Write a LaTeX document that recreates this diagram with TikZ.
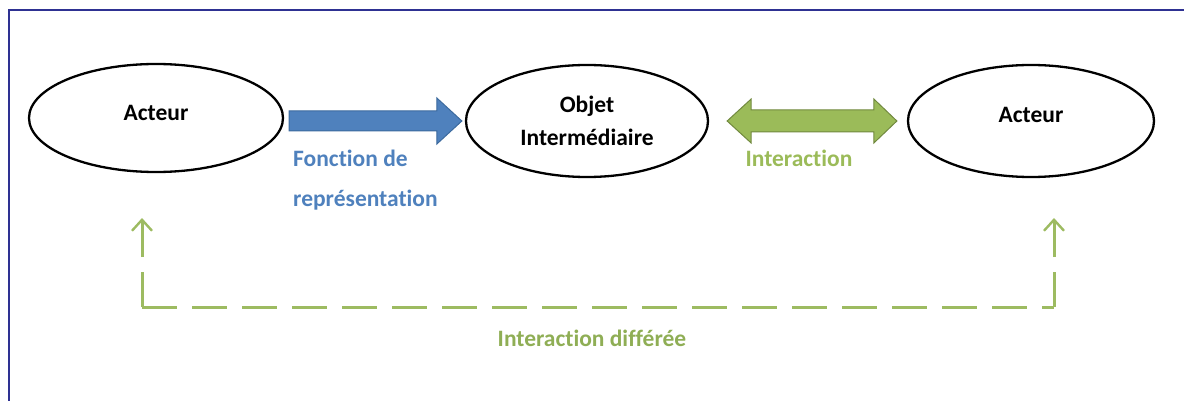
\documentclass[tikz,border=0pt]{standalone}
\usepackage{fontspec}
\setmainfont{Carlito}[Ligatures={NoCommon}]
\usetikzlibrary{shapes.geometric,arrows.meta,calc}
\definecolor{frameblue}{HTML}{2E3192}
\definecolor{repblue}{HTML}{4F81BD}
\definecolor{repblueline}{HTML}{3C6A9E}
\definecolor{intgreen}{HTML}{9BBB59}
\definecolor{intgreenline}{HTML}{71893F}
\definecolor{delaygreen}{HTML}{9DBB61}
\definecolor{delaytext}{HTML}{8FAE55}
\begin{document}
\begin{tikzpicture}[x=1pt,y=-1pt,
  lbl/.style={font=\fontsize{23.5}{33}\selectfont\bfseries},
  actor/.style={draw=black, line width=2.3pt, ellipse, inner sep=0pt,
    align=center, lbl, text=black},
  repfill/.style={fill=repblue, draw=repblueline, line width=1pt, line join=miter},
  intfill/.style={fill=intgreen, draw=intgreenline, line width=1pt, line join=miter},
  delayline/.style={draw=delaygreen, line width=3pt, dash pattern=on 35pt off 15pt},
  delaytip/.style={-{Straight Barb[length=11pt,width=20pt,line width=2.4pt]}}
]
\useasboundingbox (0,0) rectangle (1184,401);

% frame (top and left edges)
\draw[frameblue, line width=2pt] (1184,10) -- (9,10) -- (9,401);

% ellipses
\node[actor, minimum width=254pt, minimum height=108pt, text depth=10pt] (actL) at (156,118) {Acteur};
\node[actor, minimum width=242pt, minimum height=112pt] (objet) at (587,121) {Objet\\Interm\'ediaire};
\node[actor, minimum width=246pt, minimum height=112pt, text depth=12pt] (actR) at (1031,121) {Acteur};

% representation arrow: actor -> object
\coordinate (repA) at ($(actL.east)+(5,3)$);
\coordinate (repB) at ($(objet.west)+(-3,0)$);
\filldraw[repfill] ($(repA)+(0,-10)$) -- ($(repB)+(-25,-10)$) -- ($(repB)+(-25,-23)$)
  -- (repB) -- ($(repB)+(-25,23)$) -- ($(repB)+(-25,10)$) -- ($(repA)+(0,10)$) -- cycle;

% interaction arrow: object <-> actor
\coordinate (intA) at ($(objet.east)+(18,0)$);
\coordinate (intB) at ($(actR.west)+(-10,0)$);
\filldraw[intfill] (intA) -- ($(intA)+(24,-22)$) -- ($(intA)+(24,-11)$)
  -- ($(intB)+(-23,-11)$) -- ($(intB)+(-23,-22)$) -- (intB) -- ($(intB)+(-23,22)$)
  -- ($(intB)+(-23,11)$) -- ($(intA)+(24,11)$) -- ($(intA)+(24,22)$) -- cycle;

% deferred interaction
\coordinate (tipL) at (142,218);
\coordinate (tipR) at (1054,218);
\coordinate (cornL) at (142,307);
\coordinate (cornR) at (1054,307);
\draw[delayline, delaytip] (cornL) -- (tipL);
\draw[delayline] (cornL) -- (cornR);
\draw[delayline, delaytip] (cornR) -- (tipR);

% labels
\node[lbl, text=repblue, align=left, anchor=base west, inner sep=0pt,
  font=\fontsize{23.5}{40}\selectfont\bfseries] (replbl) at (293,207) {Fonction de\\repr\'esentation};
\node[lbl, text=intgreen] (intlbl) at (799,158) {Interaction};
\node[lbl, text=delaytext] (delaylbl) at (592,338) {Interaction diff\'er\'ee};
\end{tikzpicture}
\end{document}
